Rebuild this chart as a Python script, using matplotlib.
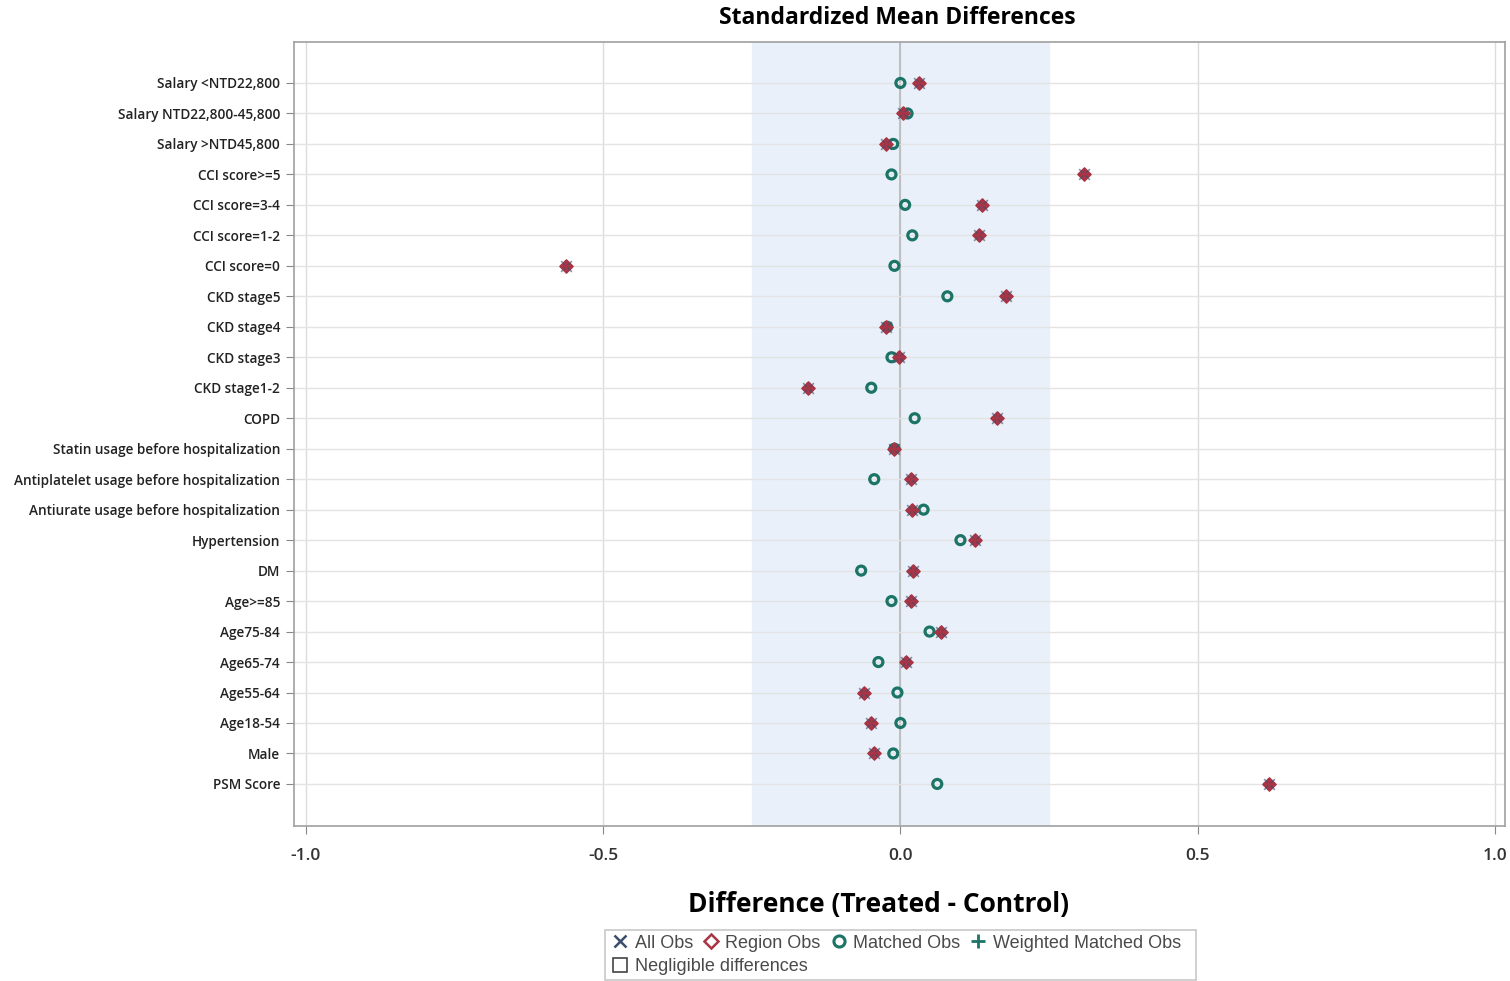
import matplotlib
matplotlib.use("Agg")
import matplotlib.pyplot as plt
from matplotlib.lines import Line2D
from matplotlib.patches import Patch, Rectangle
import numpy as np

plt.rcParams['font.family'] = ['Open Sans', 'DejaVu Sans']

# covariates, top to bottom
labels = [
    "Salary <NTD22,800", "Salary NTD22,800-45,800", "Salary >NTD45,800",
    "CCI score>=5", "CCI score=3-4", "CCI score=1-2", "CCI score=0",
    "CKD stage5", "CKD stage4", "CKD stage3", "CKD stage1-2", "COPD",
    "Statin usage before hospitalization",
    "Antiplatelet usage before hospitalization",
    "Antiurate usage before hospitalization",
    "Hypertension", "DM", "Age>=85", "Age75-84", "Age65-74", "Age55-64",
    "Age18-54", "Male", "PSM Score",
]
# all obs / region obs (same values, markers overlap)
all_obs = [0.032, 0.005, -0.025, 0.308, 0.138, 0.133, -0.563, 0.178,
           -0.024, -0.003, -0.156, 0.163, -0.010, 0.017, 0.020, 0.126,
           0.022, 0.018, 0.069, 0.010, -0.061, -0.050, -0.045, 0.620]
region_obs = all_obs
matched_obs = [0.000, 0.012, -0.012, -0.015, 0.008, 0.020, -0.010, 0.079,
               -0.022, -0.015, -0.049, 0.024, -0.010, -0.044, 0.039, 0.101,
               -0.066, -0.015, 0.049, -0.037, -0.005, 0.000, -0.012, 0.062]
threshold = 0.25
xticks = [-1.0, -0.5, 0.0, 0.5, 1.0]

c_all = '#3b4d6e'
c_region = '#a83545'
c_match = '#1b7466'

fig = plt.figure(figsize=(15.1, 9.81), dpi=100)
ax = fig.add_axes([0.1947, 0.158, 0.802, 0.7992])

y = np.arange(len(labels))

ax.axvspan(-threshold, threshold, color='#e9f0f9', zorder=0)
for xt in xticks:
    ax.axvline(xt, color='#dcdcdc', lw=1, zorder=1)
ax.axvline(0, color='#b8b8b8', lw=1.2, zorder=1)
for yi in y:
    ax.axhline(yi, color='#e3e3e3', lw=1, zorder=1)

ax.scatter(matched_obs, y, marker='o', s=42, facecolors='none',
           edgecolors=c_match, linewidths=2.3, zorder=3)
ax.scatter(region_obs, y, marker='D', s=46, color=c_region,
           edgecolors=c_region, linewidths=1, zorder=4)
ax.scatter(all_obs, y, marker='x', s=60, color=c_all, linewidths=1.2,
           zorder=5, alpha=0.6)
ax.scatter(region_obs, y, marker='+', s=80, color=c_region, linewidths=1.6,
           zorder=5)

ax.set_xlim(-1.02, 1.017)
ax.set_ylim(len(labels) - 1 + 1.38, -1.345)
ax.set_xticks(xticks)
ax.set_xticklabels([f"{v:.1f}" for v in xticks], fontsize=12.5,
                   fontweight='semibold', color='#333333')
ax.set_yticks(y)
ax.set_yticklabels(labels, fontsize=9.8, fontweight='semibold', color='#222222')
ax.tick_params(axis='both', direction='out', length=6, color='#888888')
ax.tick_params(axis='y', pad=4)
ax.tick_params(axis='x', pad=10)
for sp in ax.spines.values():
    sp.set_color('#a0a0a0')
    sp.set_linewidth(1.2)

ax.set_xlabel("Difference (Treated - Control)", fontsize=19,
              fontweight='bold')
ax.xaxis.set_label_coords(0.483, -0.083)
fig.text(0.594, 0.982, "Standardized Mean Differences", ha='center',
         va='center', fontsize=16.5, fontweight='bold')

# legend: four markers on the first row, negligible band on the second
leg_font = {'family': ['Liberation Sans'], 'size': 13}
row1 = [
    Line2D([], [], marker='x', ls='none', color=c_all, markersize=9, mew=1.8),
    Line2D([], [], marker='D', ls='none', markerfacecolor='none',
           markeredgecolor=c_region, markersize=7, mew=1.8),
    Line2D([], [], marker='o', ls='none', markerfacecolor='none',
           markeredgecolor=c_match, markersize=8, mew=2.2),
    Line2D([], [], marker='+', ls='none', color=c_match, markersize=10, mew=2),
]
names1 = ["All Obs", "Region Obs", "Matched Obs", "Weighted Matched Obs"]
leg1 = fig.legend(row1, names1, ncol=4, loc='center left',
                  bbox_to_anchor=(0.400, 0.0385), frameon=False,
                  handlelength=0.8, handletextpad=0.4, columnspacing=0.6,
                  borderpad=0, prop=leg_font)
leg2 = fig.legend([Patch(facecolor='none', edgecolor='#444444', lw=1.2)],
                  ["Negligible differences"], loc='center left',
                  bbox_to_anchor=(0.400, 0.0145), frameon=False,
                  handlelength=0.8, handletextpad=0.4, borderpad=0,
                  handleheight=0.8, prop=leg_font)
for lg in (leg1, leg2):
    for t in lg.get_texts():
        t.set_color('#4a4a4a')
fig.add_artist(Rectangle((605 / 1510, 1 - 980 / 981), 591 / 1510, 50 / 981,
                         transform=fig.transFigure, facecolor='none',
                         edgecolor='#c8c8c8', lw=1.2))

fig.savefig("out.png", dpi=100)
